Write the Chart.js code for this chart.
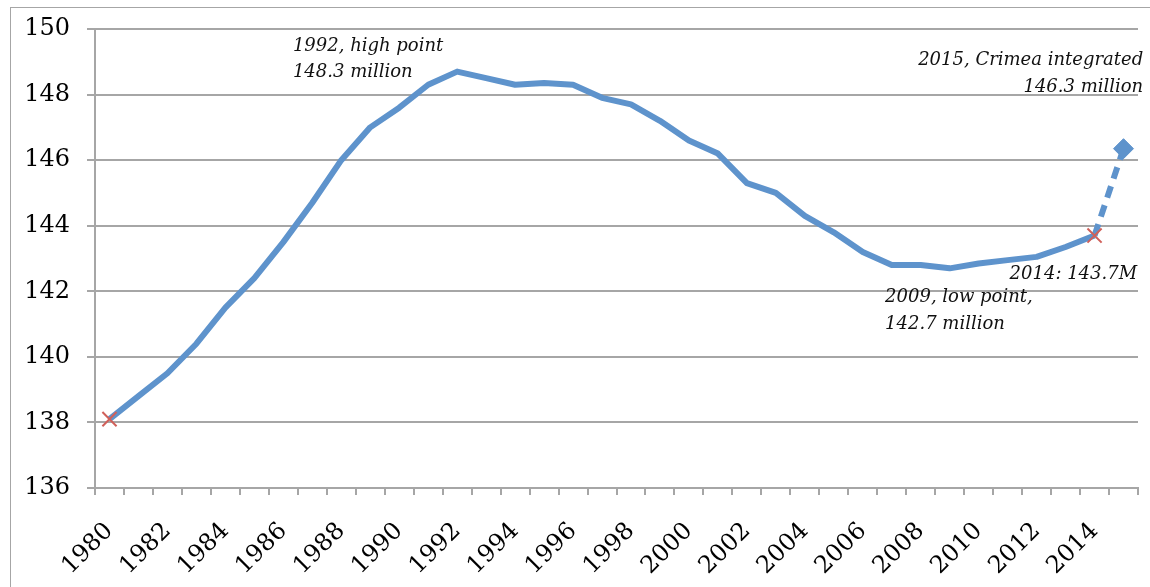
<!DOCTYPE html>
<html>
<head>
<meta charset="utf-8">
<script src="https://cdn.jsdelivr.net/npm/chart.js@4"></script>
<style>
  html, body { margin: 0; padding: 0; background: #fff; overflow: hidden; }
  #frame { position: absolute; left: 10px; top: 7px; width: 1200px; height: 640px; border: 1.5px solid #a6a6a6; }
  #myChart { position: absolute; left: 0; top: 0; }
</style>
</head>
<body>
<div id="frame"></div>
<canvas id="myChart" width="1150" height="587"></canvas>
<script>
// population of Russia, millions
const years = [1980, 1981, 1982, 1983, 1984, 1985, 1986, 1987, 1988, 1989,
               1990, 1991, 1992, 1993, 1994, 1995, 1996, 1997, 1998, 1999,
               2000, 2001, 2002, 2003, 2004, 2005, 2006, 2007, 2008, 2009,
               2010, 2011, 2012, 2013, 2014, 2015];
const population = [138.1, 138.8, 139.5, 140.4, 141.5, 142.4, 143.5, 144.7, 146.0, 147.0,
                    147.6, 148.3, 148.7, 148.5, 148.3, 148.35, 148.3, 147.9, 147.7, 147.2,
                    146.6, 146.2, 145.3, 145.0, 144.3, 143.8, 143.2, 142.8, 142.8, 142.7,
                    142.85, 142.95, 143.05, 143.35, 143.7, 146.35];
const yTicks = [136, 138, 140, 142, 144, 146, 148, 150];

// notes: anchor is category index + value
const notes = [
    {lines: ['1992, high point', '148.3 million'], x: 6.33, y: 149.33, align: 'left'},
    {lines: ['2015, Crimea integrated', '146.3 million'], x: 35.68, y: 148.9, align: 'right'},
    {lines: ['2014: 143.7M'], x: 35.47, y: 142.38, align: 'right'},
    {lines: ['2009, low point,', '142.7 million'], x: 26.77, y: 141.67, align: 'left'}
];

const blue = '#5e93cc';
const red = '#d0605a';
const last = years.length - 1;

const notesPlugin = {
    id: 'notes',
    afterDatasetsDraw(chart) {
        const c = chart.ctx;
        const xs = chart.scales.x, ys = chart.scales.y;
        c.save();
        c.fillStyle = '#111';
        c.font = 'italic 18px "DejaVu Serif"';
        c.textBaseline = 'alphabetic';
        notes.forEach(n => {
            c.textAlign = n.align;
            const px = xs.getPixelForValue(n.x);
            const py = ys.getPixelForValue(n.y);
            n.lines.forEach((t, i) => c.fillText(t, px, py + i * 26.5));
        });
        c.restore();
    }
};

function noPad(s) {
    s.paddingLeft = 0;
    s.paddingRight = 0;
    s.paddingTop = 0;
    s.paddingBottom = 0;
}

const ctx = document.getElementById('myChart').getContext('2d');

const myChart = new Chart(ctx, {
    type: 'line',
    data: {
        labels: years.map(String),
        datasets: [{
            label: 'Population',
            data: population,
            borderColor: blue,
            borderWidth: 6,
            borderJoinStyle: 'round',
            tension: 0,
            fill: false,
            segment: {
                borderDash: c => c.p1DataIndex === last ? [12, 8] : undefined
            },
            pointStyle: c => c.dataIndex === last ? 'rectRot' : 'crossRot',
            pointRadius: c => (c.dataIndex === 0 || c.dataIndex === last - 1) ? 10 : (c.dataIndex === last ? 10 : 0),
            pointBorderColor: c => c.dataIndex === last ? blue : red,
            pointBackgroundColor: blue,
            pointBorderWidth: c => c.dataIndex === last ? 1 : 2
        }]
    },
    options: {
        responsive: false,
        animation: false,
        devicePixelRatio: 1,
        layout: {padding: {left: 0, right: 12, top: 29, bottom: 0}},
        plugins: {
            legend: {display: false},
            tooltip: {enabled: false}
        },
        scales: {
            x: {
                offset: true,
                afterFit: s => { s.height = 99; noPad(s); },
                grid: {
                    offset: true,
                    drawOnChartArea: false,
                    color: '#a6a6a6',
                    lineWidth: 2,
                    tickLength: 7
                },
                border: {color: '#a6a6a6', width: 2},
                ticks: {
                    autoSkip: false,
                    minRotation: 45,
                    maxRotation: 45,
                    padding: 22,
                    color: '#000',
                    font: {family: 'DejaVu Serif', size: 24},
                    callback: (v, i) => i % 2 === 0 ? years[i] : ''
                }
            },
            y: {
                min: 136,
                max: 150,
                afterFit: s => { s.width = 95; noPad(s); },
                afterBuildTicks: s => { s.ticks = yTicks.map(v => ({value: v})); },
                grid: {
                    color: '#a6a6a6',
                    lineWidth: 2,
                    tickLength: 8
                },
                border: {color: '#a6a6a6', width: 2},
                ticks: {
                    padding: 17,
                    color: '#000',
                    font: {family: 'DejaVu Serif', size: 24}
                }
            }
        }
    },
    plugins: [notesPlugin]
});
</script>
</body>
</html>
